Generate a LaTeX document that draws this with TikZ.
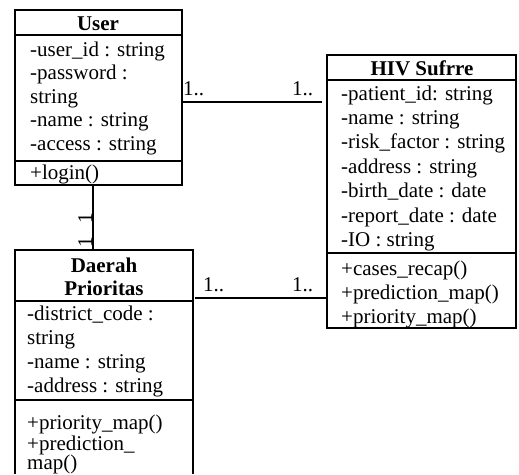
\documentclass[tikz,border=0pt]{standalone}
\usepackage{fontspec}
\setmainfont{Liberation Serif}
\begin{document}
\begin{tikzpicture}[x=1pt,y=-1pt,
 box/.style={draw, line width=2pt, inner sep=0pt, outer sep=0pt, anchor=north west},
 frame/.style={inner sep=0pt, outer sep=0pt, anchor=north west},
 sepline/.style={line width=2pt},
 conn/.style={line width=1.8pt},
 txt/.style={inner sep=0pt, anchor=base west, font=\fontsize{21}{23}\selectfont},
 ttl/.style={inner sep=0pt, anchor=base, font=\fontsize{21}{23}\selectfont\bfseries},
 mult/.style={inner sep=0pt, anchor=base west, font=\fontsize{21}{23}\selectfont},
 vmult/.style={inner sep=0pt, anchor=base, rotate=90, font=\fontsize{21}{23}\selectfont}]
\useasboundingbox (0,0) rectangle (519,474);
% User
\node[box, minimum width=167pt, minimum height=175pt] (user) at (15,10) {};
\draw[sepline] (user.west |- 0,35) -- (user.east |- 0,35);
\draw[sepline] (user.west |- 0,161) -- (user.east |- 0,161);
\node[ttl] (usert) at (98,30) {User};
\node[txt] (ua1) at (30,56) {-user\_id : string};
\node[txt] (ua2) at (30,79.5) {-password :};
\node[txt] (ua3) at (30,103) {string};
\node[txt] (ua4) at (30,126.5) {-name : string};
\node[txt] (ua5) at (30,150) {-access : string};
\node[txt] (um1) at (30,179) {+login()};
% HIV Sufrre
\node[box, minimum width=189pt, minimum height=273pt] (hiv) at (327,55) {};
\draw[sepline] (hiv.west |- 0,80) -- (hiv.east |- 0,80);
\draw[sepline] (hiv.west |- 0,253) -- (hiv.east |- 0,253);
\node[ttl] (hivt) at (422,75) {HIV Sufrre};
\node[txt] (ha1) at (341,100) {-patient\_id: string};
\node[txt] (ha2) at (341,124.4) {-name : string};
\node[txt] (ha3) at (341,148.8) {-risk\_factor : string};
\node[txt] (ha4) at (341,173.2) {-address : string};
\node[txt] (ha5) at (341,197.6) {-birth\_date : date};
\node[txt] (ha6) at (341,222) {-report\_date : date};
\node[txt] (ha7) at (341,246.4) {-IO : string};
\node[txt] (hm1) at (341,275) {+cases\_recap()};
\node[txt] (hm2) at (341,299) {+prediction\_map()};
\node[txt] (hm3) at (341,323) {+priority\_map()};
% Daerah Prioritas
\node[frame, minimum width=178pt, minimum height=224pt] (dp) at (15,250) {};
\draw[sepline] (dp.south west) -- (dp.north west) -- (dp.north east) -- (dp.south east);
\draw[sepline] (dp.west |- 0,301) -- (dp.east |- 0,301);
\draw[sepline] (dp.west |- 0,400) -- (dp.east |- 0,400);
\node[ttl] (dpt1) at (104,272) {Daerah};
\node[ttl] (dpt2) at (104,295) {Prioritas};
\node[txt] (da1) at (27,320) {-district\_code :};
\node[txt] (da2) at (27,344) {string};
\node[txt] (da3) at (27,368) {-name : string};
\node[txt] (da4) at (27,392) {-address : string};
\node[txt] (dm1) at (27,429) {+priority\_map()};
\node[txt] (dm2) at (27,450) {+prediction\_};
\node[txt] (dm3) at (27,469) {map()};
% connectors
\coordinate (c1e) at (322,102);
\draw[conn] (user.east |- c1e) -- (c1e);
\coordinate (c2s) at (195,298);
\draw[conn] (c2s) -- (hiv.west |- c2s);
\draw[conn] (user.south -| 93,0) -- (dp.north -| 93,0);
% multiplicities
\node[mult] (m1) at (183,95) {1..};
\node[mult] (m2) at (292,95) {1..};
\node[mult] (m3) at (203,291) {1..};
\node[mult] (m4) at (292,291) {1..};
\node[vmult] (m5) at (92,218) {1};
\node[vmult] (m6) at (92,242) {1};
\end{tikzpicture}
\end{document}
